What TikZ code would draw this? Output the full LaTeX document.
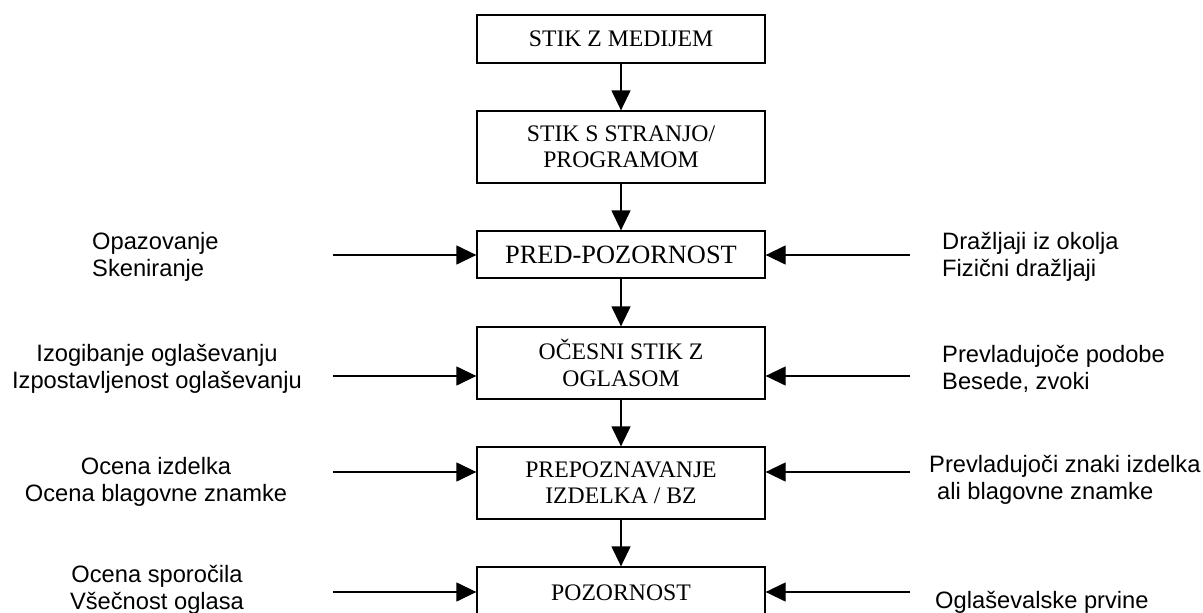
\documentclass[tikz,border=0pt]{standalone}
\usepackage{fontspec}
\setmainfont{Liberation Serif}
\newfontfamily\arialf{Liberation Sans}
\usetikzlibrary{arrows.meta,calc}
\tikzset{
  stagebox/.style={draw, line width=1.3pt, minimum width=288pt, inner sep=0pt, align=center,
    font=\fontsize{23.7}{26.5}\selectfont},
  sidetext/.style={inner sep=0pt, font=\arialf\fontsize{23.7}{27}\selectfont},
  flow/.style={line width=1.3pt, -{Triangle[length=20pt,width=19pt]}}
}
\begin{document}
\begin{tikzpicture}[x=1pt,y=-1pt]
\useasboundingbox (0,0) rectangle (1203,613);
\clip (0,0) rectangle (1203,613);
% stages
\node[stagebox, minimum height=48pt] (b1) at (621,39) {STIK Z MEDIJEM};
\node[stagebox, minimum height=72pt] (b2) at (621,147) {STIK S STRANJO/\\PROGRAMOM};
\node[stagebox, minimum height=47pt, font=\fontsize{26.4}{29}\selectfont] (b3) at (621,254.5) {PRED-POZORNOST};
\node[stagebox, minimum height=72pt] (b4) at (621,363) {OČESNI STIK Z\\OGLASOM};
\node[stagebox, minimum height=72pt] (b5) at (621,483) {PREPOZNAVANJE\\IZDELKA / BZ};
\node[stagebox, minimum height=52pt] (b6) at (621,593) {POZORNOST};
% vertical flow
\draw[flow] (b1) -- (b2);
\draw[flow] (b2) -- (b3);
\draw[flow] (b3) -- (b4);
\draw[flow] (b4) -- (b5);
\draw[flow] (b5) -- (b6);
% free ends of side arrows
\coordinate (l3) at (333,255);
\coordinate (r3) at (910,255);
\coordinate (l4) at (333,376);
\coordinate (r4) at (910,376);
\coordinate (l5) at (333,472);
\coordinate (r5) at (910,472);
\coordinate (l6) at (333,592);
\coordinate (r6) at (910,592);
\draw[flow] (l3) -- (l3 -| b3.west);
\draw[flow] (r3) -- (r3 -| b3.east);
\draw[flow] (l4) -- (l4 -| b4.west);
\draw[flow] (r4) -- (r4 -| b4.east);
\draw[flow] (l5) -- (l5 -| b5.west);
\draw[flow] (r5) -- (r5 -| b5.east);
\draw[flow] (l6) -- (l6 -| b6.west);
\draw[flow] (r6) -- (r6 -| b6.east);
% side texts
\node[sidetext, align=left, anchor=west] (t3l) at (92,257) {Opazovanje\\Skeniranje};
\node[sidetext, align=left, anchor=west] (t3r) at (942,257) {Dražljaji iz okolja\\Fizični dražljaji};
\node[sidetext, align=center] (t4l) at (157,369) {Izogibanje oglaševanju\\Izpostavljenost oglaševanju};
\node[sidetext, align=left, anchor=west] (t4r) at (942,369) {Prevladujoče podobe\\Besede, zvoki};
\node[sidetext, align=center] (t5l) at (156,481.5) {Ocena izdelka\\Ocena blagovne znamke};
\node[sidetext, align=left, anchor=west] (t5r) at (929,480) {Prevladujoči znaki izdelka\\\hspace*{8pt}ali blagovne znamke};
\node[sidetext, align=center] (t6l) at (157,589.5) {Ocena sporočila\\Všečnost oglasa};
\node[sidetext, anchor=west] (t6r) at (935,602) {Oglaševalske prvine};
\end{tikzpicture}
\end{document}
